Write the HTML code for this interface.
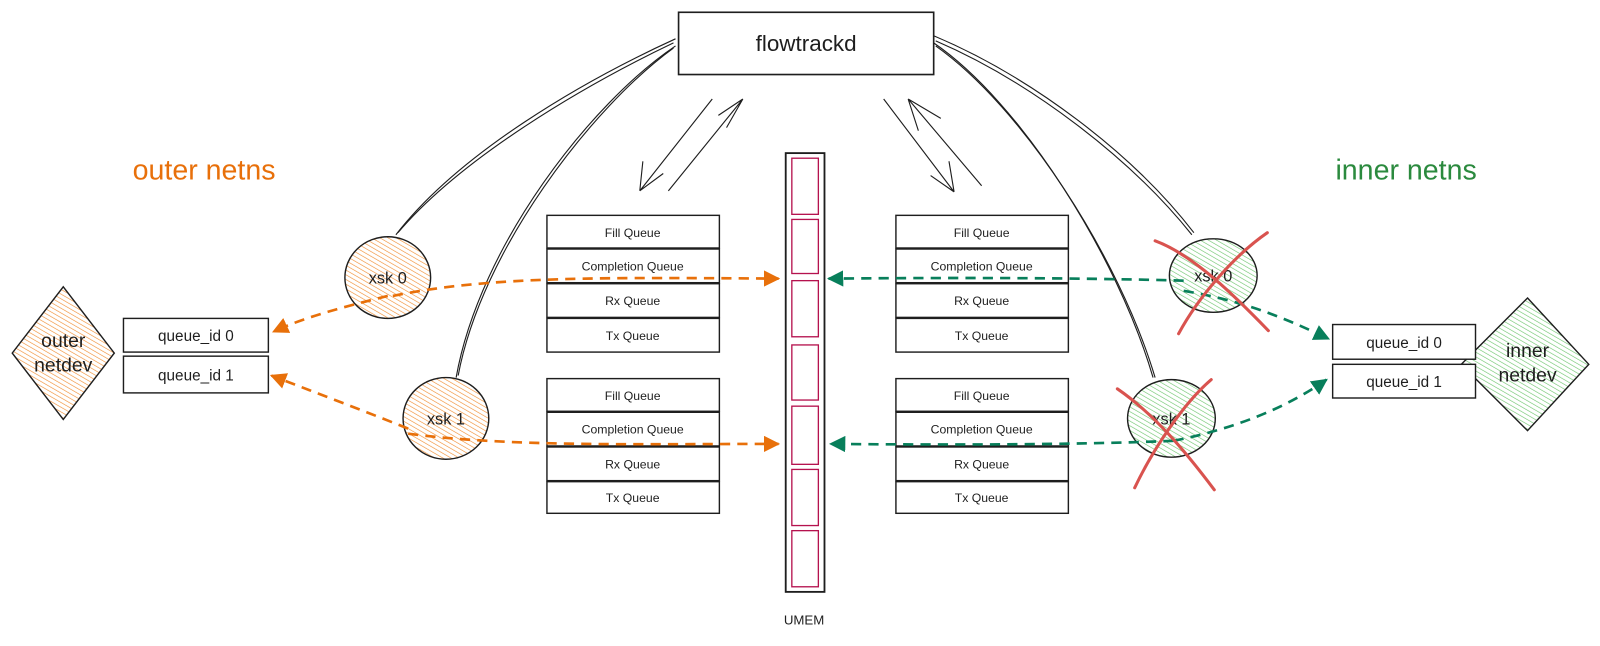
<!DOCTYPE html>
<html><head><meta charset="utf-8"><style>
html,body{margin:0;padding:0;background:#fff;}
svg{display:block}
text{font-family:"Liberation Sans",sans-serif;}
</style></head><body>
<svg width="1600" height="646" viewBox="0 0 1568 633" xmlns="http://www.w3.org/2000/svg">
<defs>
<pattern id="ho" width="4" height="4" patternUnits="userSpaceOnUse" patternTransform="rotate(-60)"><line x1="0" y1="0" x2="0" y2="4" stroke="#f08c30" stroke-width="1.2"/></pattern>
<pattern id="hg" width="4" height="4" patternUnits="userSpaceOnUse" patternTransform="rotate(-60)"><line x1="0" y1="0" x2="0" y2="4" stroke="#6cc46c" stroke-width="1.2"/></pattern>
<marker id="ao" viewBox="0 0 10 10" refX="9" refY="5" markerWidth="16" markerHeight="16" markerUnits="userSpaceOnUse" orient="auto"><path d="M0,0L10,5L0,10z" fill="#e8700a"/></marker>
<marker id="ag" viewBox="0 0 10 10" refX="9" refY="5" markerWidth="16" markerHeight="16" markerUnits="userSpaceOnUse" orient="auto"><path d="M0,0L10,5L0,10z" fill="#087f5b"/></marker>
</defs>
<g fill="none" stroke="#1e1e1e" stroke-width="1.1">
<rect x="665" y="12" width="250" height="61" stroke-width="1.6"/>
<path d="M662,38 C570,80 450,150 388,230"/><path d="M660,42 C570,85 452,155 390,228"/>
<path d="M662,45 C580,100 470,240 447,370"/><path d="M660,47 C580,105 472,245 449,368"/>
<path d="M915,35 C1010,75 1110,150 1170,228"/><path d="M917,40 C1010,80 1108,155 1168,230"/>
<path d="M915,42 C1000,100 1095,250 1130,370"/><path d="M917,45 C1002,105 1097,252 1132,370"/>
<path d="M698,97 L627,187 M627,187 L650,170 M627,187 L630,158"/>
<path d="M655,187 L728,97 M728,97 L712,125 M728,97 L704,113"/>
<path d="M866,97 L935,188 M935,188 L930,158 M935,188 L912,172"/>
<path d="M962,182 L890,97 M890,97 L922,116 M890,97 L900,128"/>
<rect x="770" y="150" width="38" height="430" stroke-width="1.8"/>
</g>
<g fill="none" stroke="#b5124e" stroke-width="1.3">
<rect x="776" y="155" width="26" height="55"/><rect x="776" y="215" width="26" height="53"/>
<rect x="776" y="275" width="26" height="55"/><rect x="776" y="338" width="26" height="54"/>
<rect x="776" y="398" width="26" height="57"/><rect x="776" y="460" width="26" height="55"/>
<rect x="776" y="520" width="26" height="55"/>
</g>
<text x="788" y="612" font-size="13" text-anchor="middle" fill="#1e1e1e">UMEM</text>
<text x="790" y="50" font-size="22" text-anchor="middle" fill="#1e1e1e">flowtrackd</text>
<text x="200" y="176" font-size="28" text-anchor="middle" fill="#e8700a">outer netns</text>
<text x="1378" y="176" font-size="28" text-anchor="middle" fill="#2b8a3e">inner netns</text>
<g fill="#fff" stroke="#1e1e1e" stroke-width="1.4">
<rect x="536" y="211" width="169" height="32"/><rect x="536" y="244" width="169" height="33"/><rect x="536" y="278" width="169" height="33"/><rect x="536" y="312" width="169" height="33"/>
<rect x="536" y="371" width="169" height="32"/><rect x="536" y="404" width="169" height="33"/><rect x="536" y="438" width="169" height="33"/><rect x="536" y="472" width="169" height="31"/>
<rect x="878" y="211" width="169" height="32"/><rect x="878" y="244" width="169" height="33"/><rect x="878" y="278" width="169" height="33"/><rect x="878" y="312" width="169" height="33"/>
<rect x="878" y="371" width="169" height="32"/><rect x="878" y="404" width="169" height="33"/><rect x="878" y="438" width="169" height="33"/><rect x="878" y="472" width="169" height="31"/>
</g>
<g font-size="12" text-anchor="middle" fill="#1e1e1e">
<text x="620" y="232">Fill Queue</text><text x="620" y="265">Completion Queue</text><text x="620" y="299">Rx Queue</text><text x="620" y="333">Tx Queue</text>
<text x="620" y="392">Fill Queue</text><text x="620" y="425">Completion Queue</text><text x="620" y="459">Rx Queue</text><text x="620" y="492">Tx Queue</text>
<text x="962" y="232">Fill Queue</text><text x="962" y="265">Completion Queue</text><text x="962" y="299">Rx Queue</text><text x="962" y="333">Tx Queue</text>
<text x="962" y="392">Fill Queue</text><text x="962" y="425">Completion Queue</text><text x="962" y="459">Rx Queue</text><text x="962" y="492">Tx Queue</text>
</g>
<polygon points="62,281 112,346 62,411 12,346" fill="url(#ho)" stroke="#1e1e1e" stroke-width="1.4"/>
<text x="62" y="340" font-size="19" text-anchor="middle" fill="#1e1e1e">outer</text>
<text x="62" y="364" font-size="19" text-anchor="middle" fill="#1e1e1e">netdev</text>
<polygon points="1497,292 1557,357 1497,422 1432,357" fill="url(#hg)" stroke="#1e1e1e" stroke-width="1.4"/>
<text x="1497" y="350" font-size="19" text-anchor="middle" fill="#1e1e1e">inner</text>
<text x="1497" y="374" font-size="19" text-anchor="middle" fill="#1e1e1e">netdev</text>
<g fill="#fff" stroke="#1e1e1e" stroke-width="1.4">
<rect x="121" y="312" width="142" height="33"/><rect x="121" y="349" width="142" height="36"/>
<rect x="1306" y="318" width="140" height="34"/><rect x="1306" y="357" width="140" height="33"/>
</g>
<g font-size="15" text-anchor="middle" fill="#1e1e1e">
<text x="192" y="334">queue_id 0</text><text x="192" y="373">queue_id 1</text>
<text x="1376" y="341">queue_id 0</text><text x="1376" y="379">queue_id 1</text>
</g>
<g stroke="#1e1e1e" stroke-width="1.4">
<ellipse cx="380" cy="272" rx="42" ry="40" fill="url(#ho)"/>
<ellipse cx="437" cy="410" rx="42" ry="40" fill="url(#ho)"/>
<ellipse cx="1189" cy="270" rx="43" ry="36" fill="url(#hg)"/>
<ellipse cx="1148" cy="410" rx="43" ry="38" fill="url(#hg)"/>
</g>
<g font-size="16" text-anchor="middle" fill="#1e1e1e">
<text x="380" y="278">xsk 0</text><text x="437" y="416">xsk 1</text>
<text x="1189" y="276">xsk 0</text><text x="1148" y="416">xsk 1</text>
</g>
<g fill="none" stroke-width="2.6" stroke-dasharray="10 7">
<path d="M380,290 C340,300 300,310 268,325" stroke="#e8700a" marker-end="url(#ao)"/>
<path d="M385,290 C480,270 600,272 763,273" stroke="#e8700a" marker-end="url(#ao)"/>
<path d="M400,420 C350,400 310,385 266,368" stroke="#e8700a" marker-end="url(#ao)"/>
<path d="M400,425 C500,438 620,435 763,435" stroke="#e8700a" marker-end="url(#ao)"/>
<path d="M1160,275 C1050,272 930,272 812,273" stroke="#087f5b" marker-end="url(#ag)"/>
<path d="M1160,285 C1220,295 1260,312 1302,332" stroke="#087f5b" marker-end="url(#ag)"/>
<path d="M1150,432 C1050,436 930,436 814,435" stroke="#087f5b" marker-end="url(#ag)"/>
<path d="M1150,432 C1210,420 1260,400 1300,372" stroke="#087f5b" marker-end="url(#ag)"/>
</g>
<g fill="none" stroke="#d9534f" stroke-width="3" stroke-linecap="round">
<path d="M1132,236 C1170,250 1210,290 1243,324"/><path d="M1242,228 C1210,250 1175,290 1155,327"/>
<path d="M1095,381 C1130,405 1160,440 1190,480"/><path d="M1187,372 C1160,395 1130,440 1112,478"/>
</g>
</svg>
</body></html>
